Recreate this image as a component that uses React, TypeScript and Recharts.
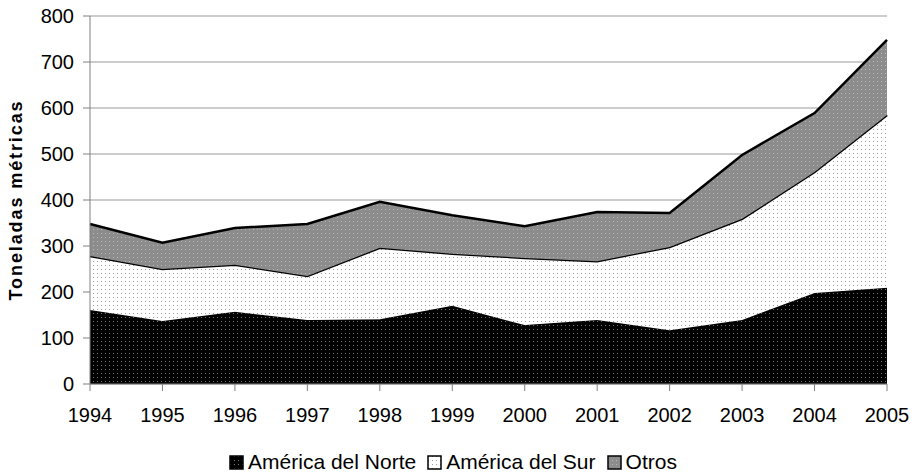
import { AreaChart, Area, XAxis, YAxis, CartesianGrid, Legend } from 'recharts';

const years = ['1994', '1995', '1996', '1997', '1998', '1999', '2000', '2001', '2002', '2003', '2004', '2005'];
const norte = [161, 137, 157, 139, 141, 170, 128, 139, 117, 139, 198, 209];
const sur = [117, 113, 102, 96, 155, 113, 146, 128, 181, 220, 263, 376];
const otros = [70, 57, 80, 113, 100, 84, 69, 107, 74, 139, 128, 163];
const yTicks = [0, 100, 200, 300, 400, 500, 600, 700, 800];

const data = years.map((y, i) => ({ year: y, norte: norte[i], sur: sur[i], otros: otros[i] }));

const FONT = '"Liberation Sans", Arial, sans-serif';

const legendItems = [
  { label: 'América del Norte', fill: 'url(#patNorte)' },
  { label: 'América del Sur', fill: 'url(#patSur)' },
  { label: 'Otros', fill: 'url(#patOtros)' },
];

const LegendContent = () => (
  <div
    style={{
      height: 56,
      display: 'flex',
      justifyContent: 'center',
      alignItems: 'flex-end',
      fontFamily: FONT,
      fontSize: 21,
      color: '#000',
    }}
  >
    <div style={{ display: 'flex', alignItems: 'center', marginBottom: 0, marginLeft: 30 }}>
      {legendItems.map((it) => (
        <span key={it.label} style={{ display: 'flex', alignItems: 'center', marginRight: 11 }}>
          <svg width={15} height={15} style={{ marginRight: 4 }}>
            <rect x={1} y={1} width={13} height={13} fill={it.fill} stroke="#000" strokeWidth={1.5} />
          </svg>
          {it.label}
        </span>
      ))}
    </div>
  </div>
);

export default function App() {
  return (
    <div style={{ position: 'absolute', left: 0, top: 0, background: '#fff' }}>
      <AreaChart width={914} height={474} data={data} margin={{ top: 16, right: 27, left: 0, bottom: 0 }}>
        <defs>
          <pattern id="patNorte" width={4} height={4} patternUnits="userSpaceOnUse">
            <rect width={4} height={4} fill="#000" />
            <rect x={1} y={1} width={1} height={1} fill="#777" />
          </pattern>
          <pattern id="patSur" width={4} height={4} patternUnits="userSpaceOnUse">
            <rect width={4} height={4} fill="#fff" />
            <rect x={1} y={1} width={1} height={1} fill="#999" />
          </pattern>
          <pattern id="patOtros" width={4} height={4} patternUnits="userSpaceOnUse">
            <rect width={4} height={4} fill="#8c8c8c" />
            <rect x={1} y={1} width={1} height={1} fill="#b8b8b8" />
          </pattern>
        </defs>
        <CartesianGrid vertical={false} stroke="#999" strokeWidth={1} />
        <XAxis
          dataKey="year"
          height={34}
          axisLine={{ stroke: '#808080' }}
          tickLine={{ stroke: '#808080' }}
          tickSize={7}
          tickMargin={17}
          tick={{ fill: '#000', fontSize: 20, fontFamily: FONT }}
          interval={0}
        />
        <YAxis
          width={90}
          domain={[0, 800]}
          ticks={yTicks}
          axisLine={{ stroke: '#808080' }}
          tickLine={{ stroke: '#808080' }}
          tickSize={7}
          tickMargin={9}
          tick={{ fill: '#000', fontSize: 20, fontFamily: FONT }}
          label={{
            value: 'Toneladas métricas',
            angle: -90,
            position: 'insideLeft',
            offset: 16,
            style: {
              fill: '#000',
              fontSize: 18,
              fontWeight: 'bold',
              fontFamily: FONT,
              textAnchor: 'middle',
              letterSpacing: 1.9,
            },
          }}
        />
        <YAxis
          yAxisId="frame"
          orientation="right"
          width={0}
          domain={[0, 800]}
          tick={false}
          tickLine={false}
          axisLine={{ stroke: '#999' }}
        />
        <Area
          type="linear"
          dataKey="norte"
          stackId="a"
          fill="url(#patNorte)"
          fillOpacity={1}
          stroke="#000"
          strokeWidth={1}
          isAnimationActive={false}
        />
        <Area
          type="linear"
          dataKey="sur"
          stackId="a"
          fill="url(#patSur)"
          fillOpacity={1}
          stroke="#000"
          strokeWidth={2.5}
          isAnimationActive={false}
        />
        <Area
          type="linear"
          dataKey="otros"
          stackId="a"
          fill="url(#patOtros)"
          fillOpacity={1}
          stroke="#000"
          strokeWidth={2.5}
          isAnimationActive={false}
        />
        <Legend verticalAlign="bottom" content={<LegendContent />} />
      </AreaChart>
    </div>
  );
}
